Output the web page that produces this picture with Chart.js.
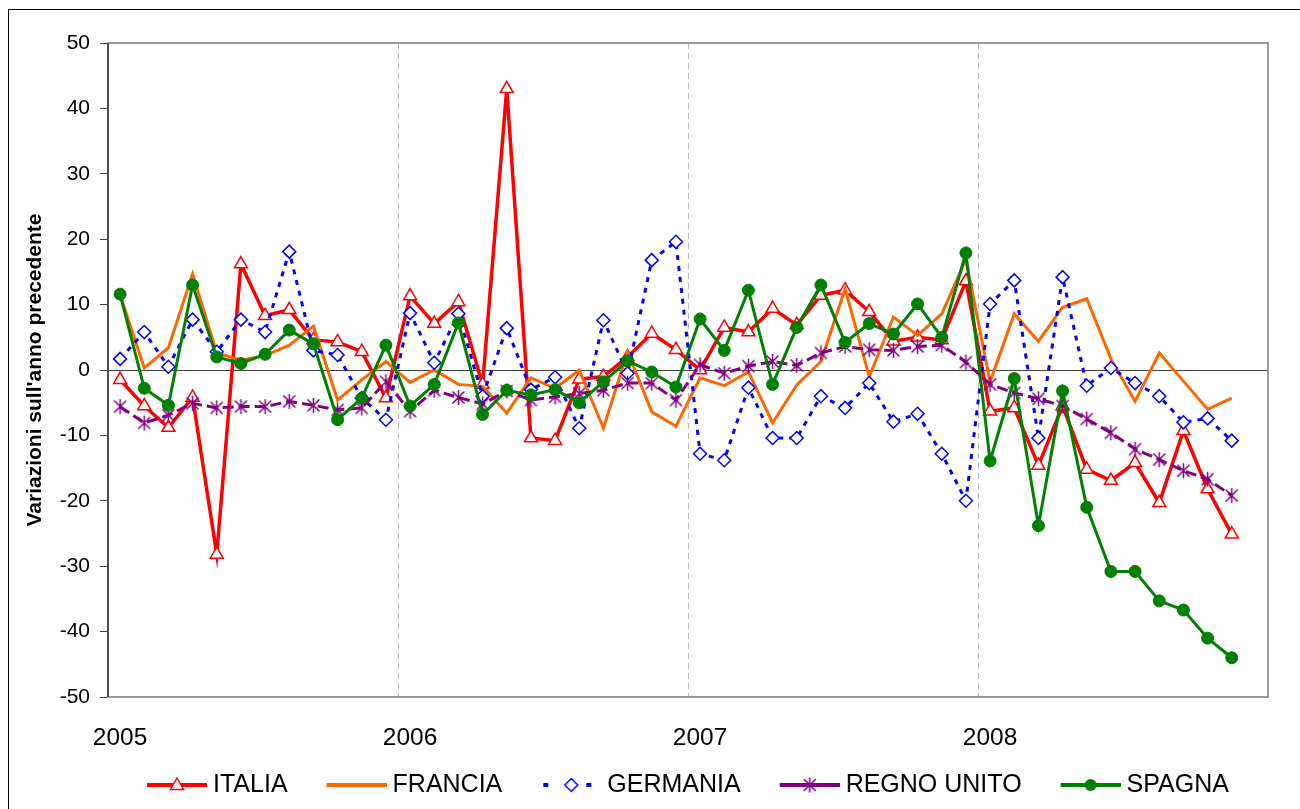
<!DOCTYPE html>
<html>
<head>
<meta charset="utf-8">
<script src="https://cdn.jsdelivr.net/npm/chart.js@4.4.1/dist/chart.umd.min.js"></script>
<style>
  html, body { margin: 0; padding: 0; background: #ffffff; }
  #wrap { width: 1300px; height: 809px; }
</style>
</head>
<body>
<div id="wrap"><canvas id="chart"></canvas></div>
<script>
const years = ["2005", "2006", "2007", "2008"];
const months = ["gen", "feb", "mar", "apr", "mag", "giu", "lug", "ago", "set", "ott", "nov", "dic"];

// variazioni sull'anno precedente, gen 2005 - nov 2008
const italia = [
  -1.5, -5.5, -8.8, -4.2, -28.2, 16.2, 8.3, 9.2, 4.6, 4.3, 2.8, -4.3,
  11.3, 7.1, 10.4, -2.2, 43.0, -10.4, -10.8, -1.4, -1.0, 2.0, 5.6, 3.1,
  0.0, 6.5, 5.8, 9.4, 6.9, 11.4, 12.2, 8.9, 4.4, 5.0, 4.6, 13.6,
  -6.3, -5.8, -14.6, -5.5, -15.2, -16.9, -14.2, -20.3, -9.3, -18.2, -25.1
];
const francia = [
  11.5, 0.3, 3.4, 14.7, 2.6, 1.5, 2.2, 3.8, 6.7, -4.6, -1.5, 1.3,
  -1.9, 0.0, -2.2, -2.5, -6.6, -1.2, -2.8, 0.0, -8.9, 2.8, -6.4, -8.6,
  -1.2, -2.4, -0.3, -8.1, -2.3, 1.3, 12.4, -1.0, 8.1, 5.3, 8.6, 16.9,
  -1.8, 8.6, 4.4, 9.6, 10.9, 1.7, -4.8, 2.6, -1.7, -6.0, -4.3
];
const germania = [
  1.7, 5.8, 0.5, 7.7, 2.8, 7.7, 5.8, 18.1, 3.0, 2.3, -4.3, -7.6,
  8.7, 1.1, 8.6, -4.0, 6.4, -3.0, -1.1, -8.9, 7.6, -0.5, 16.8, 19.6,
  -12.8, -13.8, -2.7, -10.4, -10.4, -4.0, -5.8, -2.0, -7.9, -6.7, -12.8, -20.0,
  10.1, 13.7, -10.4, 14.2, -2.4, 0.3, -2.0, -4.0, -8.0, -7.4, -10.8
];
const regnoUnito = [
  -5.6, -8.1, -6.9, -5.1, -5.8, -5.6, -5.6, -4.8, -5.4, -6.1, -5.8, -1.8,
  -6.3, -3.1, -4.2, -5.2, -3.2, -4.6, -4.1, -3.6, -3.1, -2.0, -2.0, -4.6,
  0.8, -0.5, 0.6, 1.3, 0.7, 2.6, 3.6, 3.1, 3.0, 3.6, 3.8, 1.2,
  -2.2, -3.5, -4.4, -5.5, -7.5, -9.6, -12.1, -13.7, -15.4, -16.7, -19.2
];
const spagna = [
  11.6, -2.8, -5.4, 13.0, 2.0, 1.0, 2.4, 6.1, 4.0, -7.6, -4.3, 3.8,
  -5.5, -2.2, 7.2, -6.8, -3.1, -3.8, -3.0, -5.0, -1.8, 1.4, -0.3, -2.6,
  7.8, 3.0, 12.2, -2.2, 6.5, 13.0, 4.2, 7.1, 5.5, 10.1, 5.0, 17.9,
  -13.9, -1.3, -23.8, -3.2, -21.0, -30.8, -30.8, -35.3, -36.7, -41.0, -44.0
];

const labels = [];
years.forEach(y => months.forEach(m => labels.push(m + " " + y)));

const FONT = "'Liberation Sans', Arial, sans-serif";

// marker drawing helpers (used for legend icons and the asterisk)
function drawTriangle(g, x, y) {
  g.fillStyle = "#ffffff"; g.strokeStyle = "#FF0000"; g.lineWidth = 1.5;
  g.beginPath();
  g.moveTo(x, y - 7); g.lineTo(x + 6.5, y + 4.5); g.lineTo(x - 6.5, y + 4.5);
  g.closePath(); g.fill(); g.stroke();
}
function drawDiamond(g, x, y) {
  g.fillStyle = "#ffffff"; g.strokeStyle = "#0000FF"; g.lineWidth = 1.5;
  g.beginPath();
  g.moveTo(x, y - 6.5); g.lineTo(x + 6.5, y); g.lineTo(x, y + 6.5); g.lineTo(x - 6.5, y);
  g.closePath(); g.fill(); g.stroke();
}
function drawAsterisk(g, x, y) {
  g.strokeStyle = "#800080"; g.lineWidth = 1.5;
  g.beginPath();
  g.moveTo(x, y - 7.5); g.lineTo(x, y + 7.5);
  g.moveTo(x - 6, y - 6); g.lineTo(x + 6, y + 6);
  g.moveTo(x + 6, y - 6); g.lineTo(x - 6, y + 6);
  g.stroke();
}
function drawDot(g, x, y) {
  g.fillStyle = "#008000";
  g.beginPath(); g.arc(x, y, 6, 0, Math.PI * 2); g.fill();
}

function asteriskPoint() {
  const c = document.createElement("canvas");
  c.width = 17; c.height = 17;
  drawAsterisk(c.getContext("2d"), 8.5, 8.5);
  return c;
}

// legend sample: 60px line+marker drawn in the right part of a wider icon
function legendIcon(color, dashed, marker) {
  const c = document.createElement("canvas");
  c.width = 92; c.height = 20;
  const g = c.getContext("2d");
  const s = 32;
  g.strokeStyle = color; g.lineWidth = 4;
  g.beginPath();
  if (dashed) {
    g.moveTo(s + 2, 10); g.lineTo(s + 7, 10);
    g.moveTo(s + 45, 10); g.lineTo(s + 50, 10);
  } else {
    g.moveTo(s, 10); g.lineTo(s + 60, 10);
  }
  g.stroke();
  if (marker) marker(g, dashed ? s + 30 : s + 30, 10);
  return c;
}

const legendIcons = [
  legendIcon("#FF0000", false, drawTriangle),
  legendIcon("#FF6600", false, null),
  legendIcon("#0000FF", true, drawDiamond),
  legendIcon("#800080", false, drawAsterisk),
  legendIcon("#008000", false, drawDot)
];

const framePlugin = {
  id: "frame",
  beforeDatasetsDraw(chart) {
    const { ctx, chartArea: a } = chart;
    ctx.save();
    ctx.strokeStyle = "#9a9a9a";
    ctx.lineWidth = 2;
    ctx.strokeRect(a.left, a.top, a.right - a.left, a.bottom - a.top);
    ctx.strokeStyle = "#333333";
    ctx.lineWidth = 1.5;
    ctx.beginPath();
    ctx.moveTo(a.left, a.top);
    ctx.lineTo(a.left, a.bottom);
    ctx.stroke();
    ctx.restore();
  },
  afterDraw(chart) {
    const ctx = chart.ctx;
    ctx.save();
    ctx.strokeStyle = "#000000";
    ctx.lineWidth = 1;
    ctx.strokeRect(8.5, 9.5, 2000, 2000);
    ctx.restore();
  }
};

new Chart(document.getElementById("chart"), {
  type: "line",
  data: {
    labels: labels,
    datasets: [
      {
        label: "ITALIA",
        data: italia,
        borderColor: "#FF0000",
        borderWidth: 3.5,
        pointStyle: "triangle",
        pointRadius: 7.5,
        pointBackgroundColor: "#ffffff",
        pointBorderColor: "#FF0000",
        pointBorderWidth: 1.5,
        order: 5
      },
      {
        label: "FRANCIA",
        data: francia,
        borderColor: "#FF6600",
        borderWidth: 3,
        pointRadius: 0,
        order: 4
      },
      {
        label: "GERMANIA",
        data: germania,
        borderColor: "#0000FF",
        borderWidth: 3,
        borderDash: [5, 6],
        pointStyle: "rectRot",
        pointRadius: 6.5,
        pointBackgroundColor: "#ffffff",
        pointBorderColor: "#0000FF",
        pointBorderWidth: 1.5,
        order: 3
      },
      {
        label: "REGNO UNITO",
        data: regnoUnito,
        borderColor: "#800080",
        borderWidth: 3,
        borderDash: [11, 5],
        pointStyle: asteriskPoint(),
        pointRadius: 8,
        order: 2
      },
      {
        label: "SPAGNA",
        data: spagna,
        borderColor: "#008000",
        borderWidth: 3,
        pointStyle: "circle",
        pointRadius: 6,
        pointBackgroundColor: "#008000",
        pointBorderColor: "#008000",
        pointBorderWidth: 1,
        order: 1
      }
    ]
  },
  options: {
    responsive: true,
    maintainAspectRatio: false,
    animation: false,
    layout: { padding: { top: 43, right: 32, bottom: 1.5, left: 0 } },
    plugins: {
      tooltip: { enabled: false },
      legend: {
        position: "bottom",
        align: "start",
        fullSize: false,
        labels: {
          usePointStyle: true,
          pointStyleWidth: 79,
          padding: 13.5,
          color: "#000000",
          font: { family: FONT, size: 25 },
          sort: (a, b) => a.datasetIndex - b.datasetIndex,
          generateLabels(chart) {
            const items = Chart.defaults.plugins.legend.labels.generateLabels(chart);
            items.forEach(it => { it.pointStyle = legendIcons[it.datasetIndex]; });
            return items;
          }
        }
      }
    },
    scales: {
      x: {
        offset: true,
        grid: {
          offset: true,
          drawTicks: false,
          lineWidth: 1,
          color: c => (c.index > 0 && c.index < labels.length && c.index % 12 === 0) ? "#b8b8b8" : "rgba(0,0,0,0)"
        },
        border: { display: false, dash: [6, 4] },
        ticks: {
          autoSkip: false,
          maxRotation: 0,
          minRotation: 0,
          padding: 27,
          color: "#000000",
          font: { family: FONT, size: 24.5 },
          callback: (value, index) => index % 12 === 0 ? years[index / 12] : ""
        },
        afterFit: s => { s.height = 62; }
      },
      y: {
        min: -50,
        max: 50,
        ticks: {
          stepSize: 10,
          padding: 10,
          color: "#000000",
          font: { family: FONT, size: 21 }
        },
        grid: {
          lineWidth: 1,
          tickLength: 8,
          tickColor: "#404040",
          color: c => (c.tick && c.tick.value === 0) ? "#404040" : "rgba(0,0,0,0)"
        },
        border: { display: false },
        title: {
          display: true,
          text: "Variazioni sull'anno precedente",
          color: "#000000",
          font: { family: FONT, size: 21, weight: "bold" },
          padding: { top: 23, bottom: 0 }
        },
        afterFit: s => { s.width = 108; }
      }
    }
  },
  plugins: [framePlugin]
});
</script>
</body>
</html>
